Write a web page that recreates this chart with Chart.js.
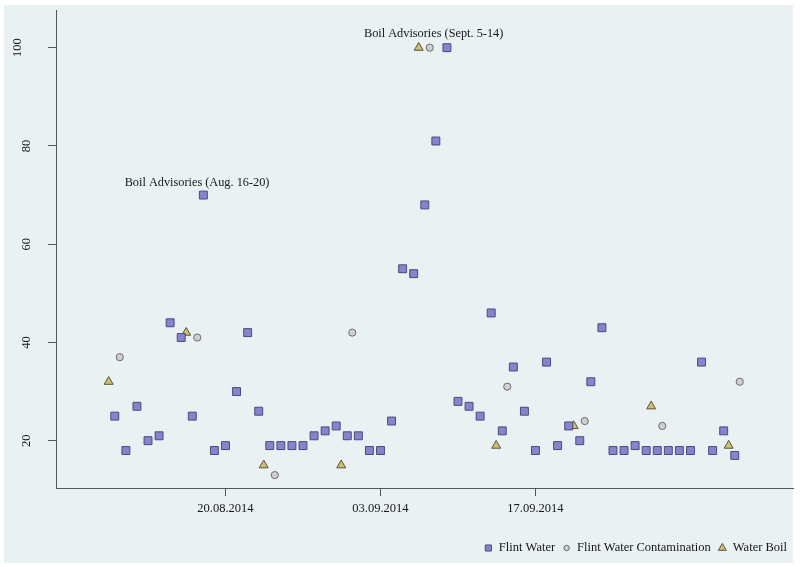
<!DOCTYPE html>
<html>
<head>
<meta charset="utf-8">
<script src="https://cdn.jsdelivr.net/npm/chart.js@4.4.1/dist/chart.umd.min.js"></script>
<style>
  html, body { margin: 0; padding: 0; background: #ffffff; }
  #wrap { width: 800px; height: 567px; }
</style>
</head>
<body>
<div id="wrap"><canvas id="c" width="800" height="567"></canvas></div>
<script>
// ---- Data (day numbers counted from 1 Aug 2014 = 1; 1 Sep 2014 = 32) ----
const waterDays = [10, 11, 12, 13, 14, 15, 16, 17, 18, 19, 20, 21, 22, 23, 24, 25, 26, 27, 28, 29,
                   30, 31, 32, 33, 34, 35, 36, 37, 38, 39, 40, 41, 42, 43, 44, 45, 46, 47, 48, 49,
                   50, 51, 52, 53, 54, 55, 56, 57, 58, 59, 60, 61, 62, 63, 64, 65, 66];
const waterValues = [25, 18, 27, 20, 21, 44, 41, 25, 70, 18, 19, 30, 42, 26, 19, 19, 19, 19, 21, 22,
                     23, 21, 21, 18, 18, 24, 55, 54, 68, 81, 100, 28, 27, 25, 46, 22, 35, 26, 18, 36,
                     19, 23, 20, 32, 43, 18, 18, 19, 18, 18, 18, 18, 18, 36, 18, 22, 17];

const contaminationDays = [10.45, 17.45, 24.45, 31.45, 38.45, 45.45, 52.45, 59.45, 66.45];
const contaminationValues = [37, 41, 13, 42, 100, 31, 24, 23, 32];

const boilDays = [9.45, 16.45, 23.45, 30.45, 37.45, 44.45, 51.45, 58.45, 65.45];
const boilValues = [32, 42, 15, 15, 100, 19, 23, 27, 19];

const seriesNames = ['Flint Water', 'Flint Water Contamination', 'Water Boil'];

const xTickValues = [20, 34, 48];
const xTickLabels = ['20.08.2014', '03.09.2014', '17.09.2014'];
const yTickValues = [20, 40, 60, 80, 100];

const annotationTexts = ['Boil Advisories (Aug. 16-20)', 'Boil Advisories (Sept. 5-14)'];
const annotationDays = [17.43, 38.8];
const annotationValues = [72.5, 102.9];

// ---- Styles ----
const FONT = '"Liberation Serif", "Times New Roman", serif';
const TEXT = '#161616';
const AXIS = '#555555';
const PANEL = '#eaf1f3';

function pts(xs, ys) { return xs.map((x, i) => ({ x: x, y: ys[i] })); }

const panelPlugin = {
  id: 'panel',
  beforeDraw(chart) {
    const ctx = chart.ctx;
    ctx.save();
    ctx.fillStyle = '#ffffff';
    ctx.fillRect(0, 0, chart.width, chart.height);
    ctx.fillStyle = PANEL;
    ctx.fillRect(4, 5, 789, 558);
    ctx.restore();
  }
};

const textPlugin = {
  id: 'texts',
  afterDraw(chart) {
    const ctx = chart.ctx;
    const xs = chart.scales.x, ys = chart.scales.y;
    ctx.save();
    ctx.fillStyle = TEXT;
    ctx.font = '12.5px ' + FONT;
    // rotated y tick labels
    const w80 = ctx.measureText('80').width;
    yTickValues.forEach(v => {
      const label = String(v);
      const w = ctx.measureText(label).width;
      const cx = 27 - 1.44 * (w - w80);
      const py = ys.getPixelForValue(v);
      ctx.save();
      ctx.translate(cx, py);
      ctx.rotate(-Math.PI / 2);
      ctx.textAlign = 'center';
      ctx.textBaseline = 'middle';
      ctx.fillText(label, 0, 0);
      ctx.restore();
    });
    // annotations
    ctx.textAlign = 'center';
    ctx.textBaseline = 'middle';
    ctx.font = '12.3px ' + FONT;
    annotationTexts.forEach((t, i) => {
      ctx.fillText(t, xs.getPixelForValue(annotationDays[i]), ys.getPixelForValue(annotationValues[i]));
    });
    // legend
    ctx.font = '12.5px ' + FONT;
    ctx.textAlign = 'left';
    const legendSizes = [4.3, 2.7, 4.6];
    let right = 787;
    const cy = 548;
    const items = chart.data.datasets.map((d, i) => ({ d, i })).reverse();
    items.forEach(({ d, i }) => {
      const w = ctx.measureText(d.label).width;
      const tx = right - w;
      ctx.fillStyle = TEXT;
      ctx.fillText(d.label, tx, cy);
      const mx = tx - 10.5;
      ctx.fillStyle = d.backgroundColor;
      ctx.strokeStyle = d.borderColor;
      ctx.lineWidth = 1;
      Chart.helpers.drawPoint(ctx, { pointStyle: d.pointStyle, rotation: 0, radius: legendSizes[i], borderWidth: 1 }, mx, cy);
      right = mx - 11.5;
    });
    ctx.restore();
  }
};

new Chart(document.getElementById('c'), {
  type: 'scatter',
  data: {
    datasets: [
      {
        label: seriesNames[0],
        data: pts(waterDays, waterValues),
        pointStyle: 'rect',
        pointRadius: 5.6,
        backgroundColor: '#8784cc',
        borderColor: '#4a4980',
        borderWidth: 1
      },
      {
        label: seriesNames[1],
        data: pts(contaminationDays, contaminationValues),
        pointStyle: 'circle',
        pointRadius: 3.6,
        backgroundColor: '#cfcfcf',
        borderColor: '#6c6c6c',
        borderWidth: 1
      },
      {
        label: seriesNames[2],
        data: pts(boilDays, boilValues),
        pointStyle: 'triangle',
        pointRadius: 5.2,
        backgroundColor: '#c9bf7b',
        borderColor: '#5e5632',
        borderWidth: 1
      }
    ]
  },
  options: {
    responsive: false,
    animation: false,
    devicePixelRatio: 1,
    layout: { padding: { left: 0, right: 7, top: 10, bottom: 39 } },
    plugins: {
      legend: { display: false },
      tooltip: { enabled: false }
    },
    scales: {
      x: {
        type: 'linear',
        min: 4.69,
        max: 71.26,
        afterBuildTicks: s => { s.ticks = xTickValues.map(v => ({ value: v })); },
        afterFit: s => { s.height = 40; },
        grid: { drawOnChartArea: false, drawTicks: true, tickLength: 8, color: AXIS, tickColor: AXIS },
        border: { display: true, color: AXIS, width: 1 },
        ticks: {
          autoSkip: false,
          maxRotation: 0,
          padding: 5,
          color: TEXT,
          font: { family: FONT, size: 12.5 },
          callback: v => { const k = xTickValues.indexOf(v); return k >= 0 ? xTickLabels[k] : ''; }
        }
      },
      y: {
        type: 'linear',
        min: 10.37,
        max: 107.67,
        afterBuildTicks: s => { s.ticks = yTickValues.map(v => ({ value: v })); },
        afterFit: s => { s.width = 56; },
        grid: { drawOnChartArea: false, drawTicks: true, tickLength: 8, color: AXIS, tickColor: AXIS },
        border: { display: true, color: AXIS, width: 1 },
        ticks: { display: false }
      }
    }
  },
  plugins: [panelPlugin, textPlugin]
});
</script>
</body>
</html>
